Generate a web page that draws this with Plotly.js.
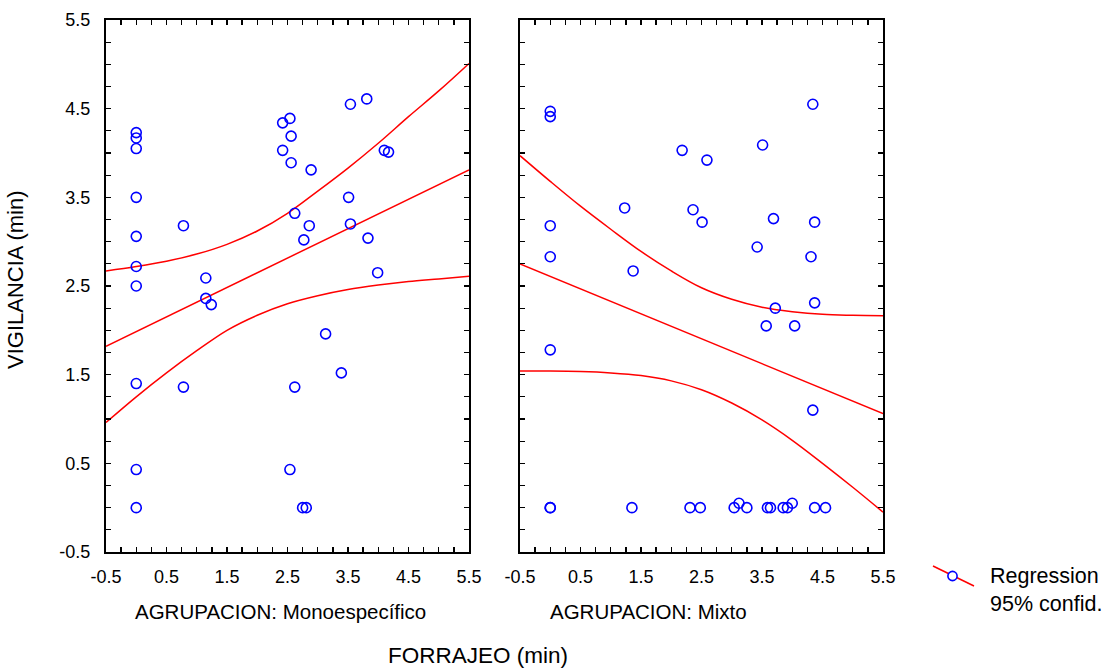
<!DOCTYPE html>
<html>
<head>
<meta charset="utf-8">
<script src="https://cdn.plot.ly/plotly-3.0.1.min.js"></script>
<style>html,body{margin:0;padding:0;background:#fff;}#chart{width:1112px;height:670px;}</style>
</head>
<body>
<div id="chart"></div>
<script>
// ---- Data ----
// Panel 1: AGRUPACION: Monoespecífico
const monoX = [0, 0, 0, 0, 0, 0, 0, 0, 0, 0,
  0.78, 0.78, 1.15, 1.15, 1.24, 2.42, 2.42, 2.54, 2.54, 2.56, 2.56, 2.62, 2.62,
  2.75, 2.81, 2.77, 2.86, 2.89, 3.13, 3.39, 3.51, 3.54, 3.54, 3.81, 3.83, 3.99, 4.10, 4.17];
const monoY = [4.23, 4.17, 4.05, 3.50, 3.06, 2.72, 2.50, 1.40, 0.43, 0.00,
  3.18, 1.36, 2.59, 2.36, 2.29, 4.34, 4.03, 4.39, 0.43, 4.19, 3.89, 3.32, 1.36,
  0.00, 0.00, 3.02, 3.18, 3.81, 1.96, 1.52, 3.50, 4.55, 3.20, 4.61, 3.04, 2.65, 4.03, 4.01];

// Panel 2: AGRUPACION: Mixto
const mixtoX = [0, 0, 0, 0, 0, 0, 0,
  1.23, 1.37, 1.35, 2.18, 2.31, 2.36, 2.48, 2.51, 2.59, 3.04, 3.12, 3.25, 3.42, 3.51,
  3.57, 3.59, 3.64, 3.69, 3.72, 3.85, 3.92, 4.00, 4.04, 4.31, 4.34, 4.34, 4.37, 4.37, 4.37, 4.55];
const mixtoY = [4.47, 4.41, 3.18, 2.83, 1.78, 0.00, 0.00,
  3.38, 2.67, 0.00, 4.03, 0.00, 3.36, 0.00, 3.22, 3.92, 0.00, 0.05, 0.00, 2.94, 4.09,
  2.05, 0.00, 0.00, 3.26, 2.25, 0.00, 0.00, 0.05, 2.05, 2.83, 4.55, 1.10, 3.22, 2.31, 0.00, 0.00];

// Regression line and 95% confidence bands (values read at these x positions)
const bandX = [-0.5, 0, 0.5, 1, 1.5, 2, 2.5, 3, 3.5, 4, 4.5, 5, 5.5];
const lineX = [-0.5, 5.5];
const monoFit = [1.82, 3.81];
const monoUpper = [2.67, 2.72, 2.78, 2.86, 2.97, 3.12, 3.32, 3.57, 3.83, 4.11, 4.41, 4.70, 5.01];
const monoLower = [0.96, 1.25, 1.52, 1.77, 2.00, 2.17, 2.30, 2.39, 2.46, 2.51, 2.55, 2.58, 2.61];
const mixtoFit = [2.75, 1.06];
const mixtoUpper = [3.97, 3.68, 3.40, 3.14, 2.89, 2.67, 2.48, 2.35, 2.26, 2.21, 2.18, 2.17, 2.165];
const mixtoLower = [1.54, 1.54, 1.535, 1.52, 1.49, 1.43, 1.33, 1.18, 0.99, 0.76, 0.50, 0.23, -0.05];

const tickVals = [-0.5, 0.5, 1.5, 2.5, 3.5, 4.5, 5.5];
const tickText = ['-0.5', '0.5', '1.5', '2.5', '3.5', '4.5', '5.5'];
const panelTitles = ['AGRUPACION: Monoespecífico', 'AGRUPACION: Mixto'];
const xTitle = 'FORRAJEO (min)';
const yTitle = 'VIGILANCIA (min)';
const legendLabels = ['Regression', '95% confid.'];

// ---- Styles ----
const FONT = 'Liberation Sans, Arial, Helvetica, sans-serif';
const BLUE = 'rgb(0,0,255)';
const RED = 'rgb(255,0,0)';

function pts(x, y, xa, ya) {
  return {x: x, y: y, xaxis: xa, yaxis: ya, type: 'scatter', mode: 'markers',
    marker: {symbol: 'circle-open', size: 10, color: BLUE, line: {width: 1.6, color: BLUE}},
    showlegend: false, hoverinfo: 'x+y', cliponaxis: false};
}
function curve(x, y, xa, ya, smooth) {
  return {x: x, y: y, xaxis: xa, yaxis: ya, type: 'scatter', mode: 'lines',
    line: {color: RED, width: 1.5, shape: smooth ? 'spline' : 'linear', smoothing: 1},
    showlegend: false, hoverinfo: 'skip'};
}

const traces = [
  curve(bandX, monoUpper, 'x', 'y', true),
  curve(lineX, monoFit, 'x', 'y', false),
  curve(bandX, monoLower, 'x', 'y', true),
  pts(monoX, monoY, 'x', 'y'),
  curve(bandX, mixtoUpper, 'x2', 'y2', true),
  curve(lineX, mixtoFit, 'x2', 'y2', false),
  curve(bandX, mixtoLower, 'x2', 'y2', true),
  pts(mixtoX, mixtoY, 'x2', 'y2')
];

const minor = {tickmode: 'linear', tick0: -0.5, dtick: 0.25, ticks: 'inside', ticklen: 5, tickwidth: 1.3, tickcolor: '#000'};

function xAxis(domain, anchor) {
  return {domain: domain, anchor: anchor, range: [-0.5, 5.5], autorange: false,
    tickmode: 'array', tickvals: tickVals, ticktext: tickText,
    ticks: 'inside', ticklen: 5, tickwidth: 1.3, tickcolor: '#000', minor: minor,
    showline: true, linecolor: '#000', linewidth: 2, mirror: 'ticks',
    showgrid: false, zeroline: false, ticklabelstandoff: 7,
    tickfont: {family: FONT, size: 18, color: '#000'}};
}
function yAxis(anchor, labels) {
  return {domain: [0, 1], anchor: anchor, range: [-0.5, 5.5], autorange: false,
    tickmode: 'array', tickvals: tickVals, ticktext: tickText, showticklabels: labels,
    ticks: 'inside', ticklen: 5, tickwidth: 1.3, tickcolor: '#000', minor: minor,
    showline: true, linecolor: '#000', linewidth: 2, mirror: 'ticks',
    showgrid: false, zeroline: false, ticklabelstandoff: 10,
    tickfont: {family: FONT, size: 18, color: '#000'}};
}

const L = 106, R = 229, T = 20, B = 118, W = 1112, H = 670;
const PW = W - L - R, PH = H - T - B;
const px = v => (v - L) / PW;
const py = v => (H - B - v) / PH;

const layout = {
  width: W, height: H,
  margin: {l: L, r: R, t: T, b: B, pad: 0},
  paper_bgcolor: '#fff', plot_bgcolor: '#fff',
  showlegend: false,
  font: {family: FONT, color: '#000'},
  xaxis: xAxis([0, px(469)], 'y'),
  yaxis: yAxis('x', true),
  xaxis2: xAxis([px(520), 1], 'y2'),
  yaxis2: yAxis('x2', false),
  annotations: [
    {text: panelTitles[0], xref: 'paper', yref: 'paper', x: px(133), y: py(611), xanchor: 'left', yanchor: 'middle', showarrow: false, font: {size: 20.5, family: FONT}},
    {text: panelTitles[1], xref: 'paper', yref: 'paper', x: px(548), y: py(611), xanchor: 'left', yanchor: 'middle', showarrow: false, font: {size: 20.5, family: FONT}},
    {text: xTitle, xref: 'paper', yref: 'paper', x: px(478), y: py(655), xanchor: 'center', yanchor: 'middle', showarrow: false, font: {size: 22.5, family: FONT}},
    {text: yTitle, xref: 'paper', yref: 'paper', x: px(15), y: py(280), xanchor: 'center', yanchor: 'middle', textangle: -90, showarrow: false, font: {size: 22, family: FONT}},
    {text: legendLabels[0], xref: 'paper', yref: 'paper', x: px(988), y: py(576), xanchor: 'left', yanchor: 'middle', showarrow: false, font: {size: 21.5, family: FONT}},
    {text: legendLabels[1], xref: 'paper', yref: 'paper', x: px(988), y: py(604), xanchor: 'left', yanchor: 'middle', showarrow: false, font: {size: 21.5, family: FONT}}
  ],
  shapes: [
    {type: 'line', xref: 'paper', yref: 'paper', x0: px(933), y0: py(566), x1: px(974), y1: py(586), line: {color: RED, width: 1.5}},
    {type: 'circle', xref: 'paper', yref: 'paper', xsizemode: 'pixel', ysizemode: 'pixel',
      xanchor: px(952.5), yanchor: py(576), x0: -4.6, x1: 4.6, y0: -4.6, y1: 4.6,
      fillcolor: '#fff', line: {color: BLUE, width: 1.6}}
  ]
};

Plotly.newPlot('chart', traces, layout, {staticPlot: true, displayModeBar: false});
</script>
</body>
</html>
